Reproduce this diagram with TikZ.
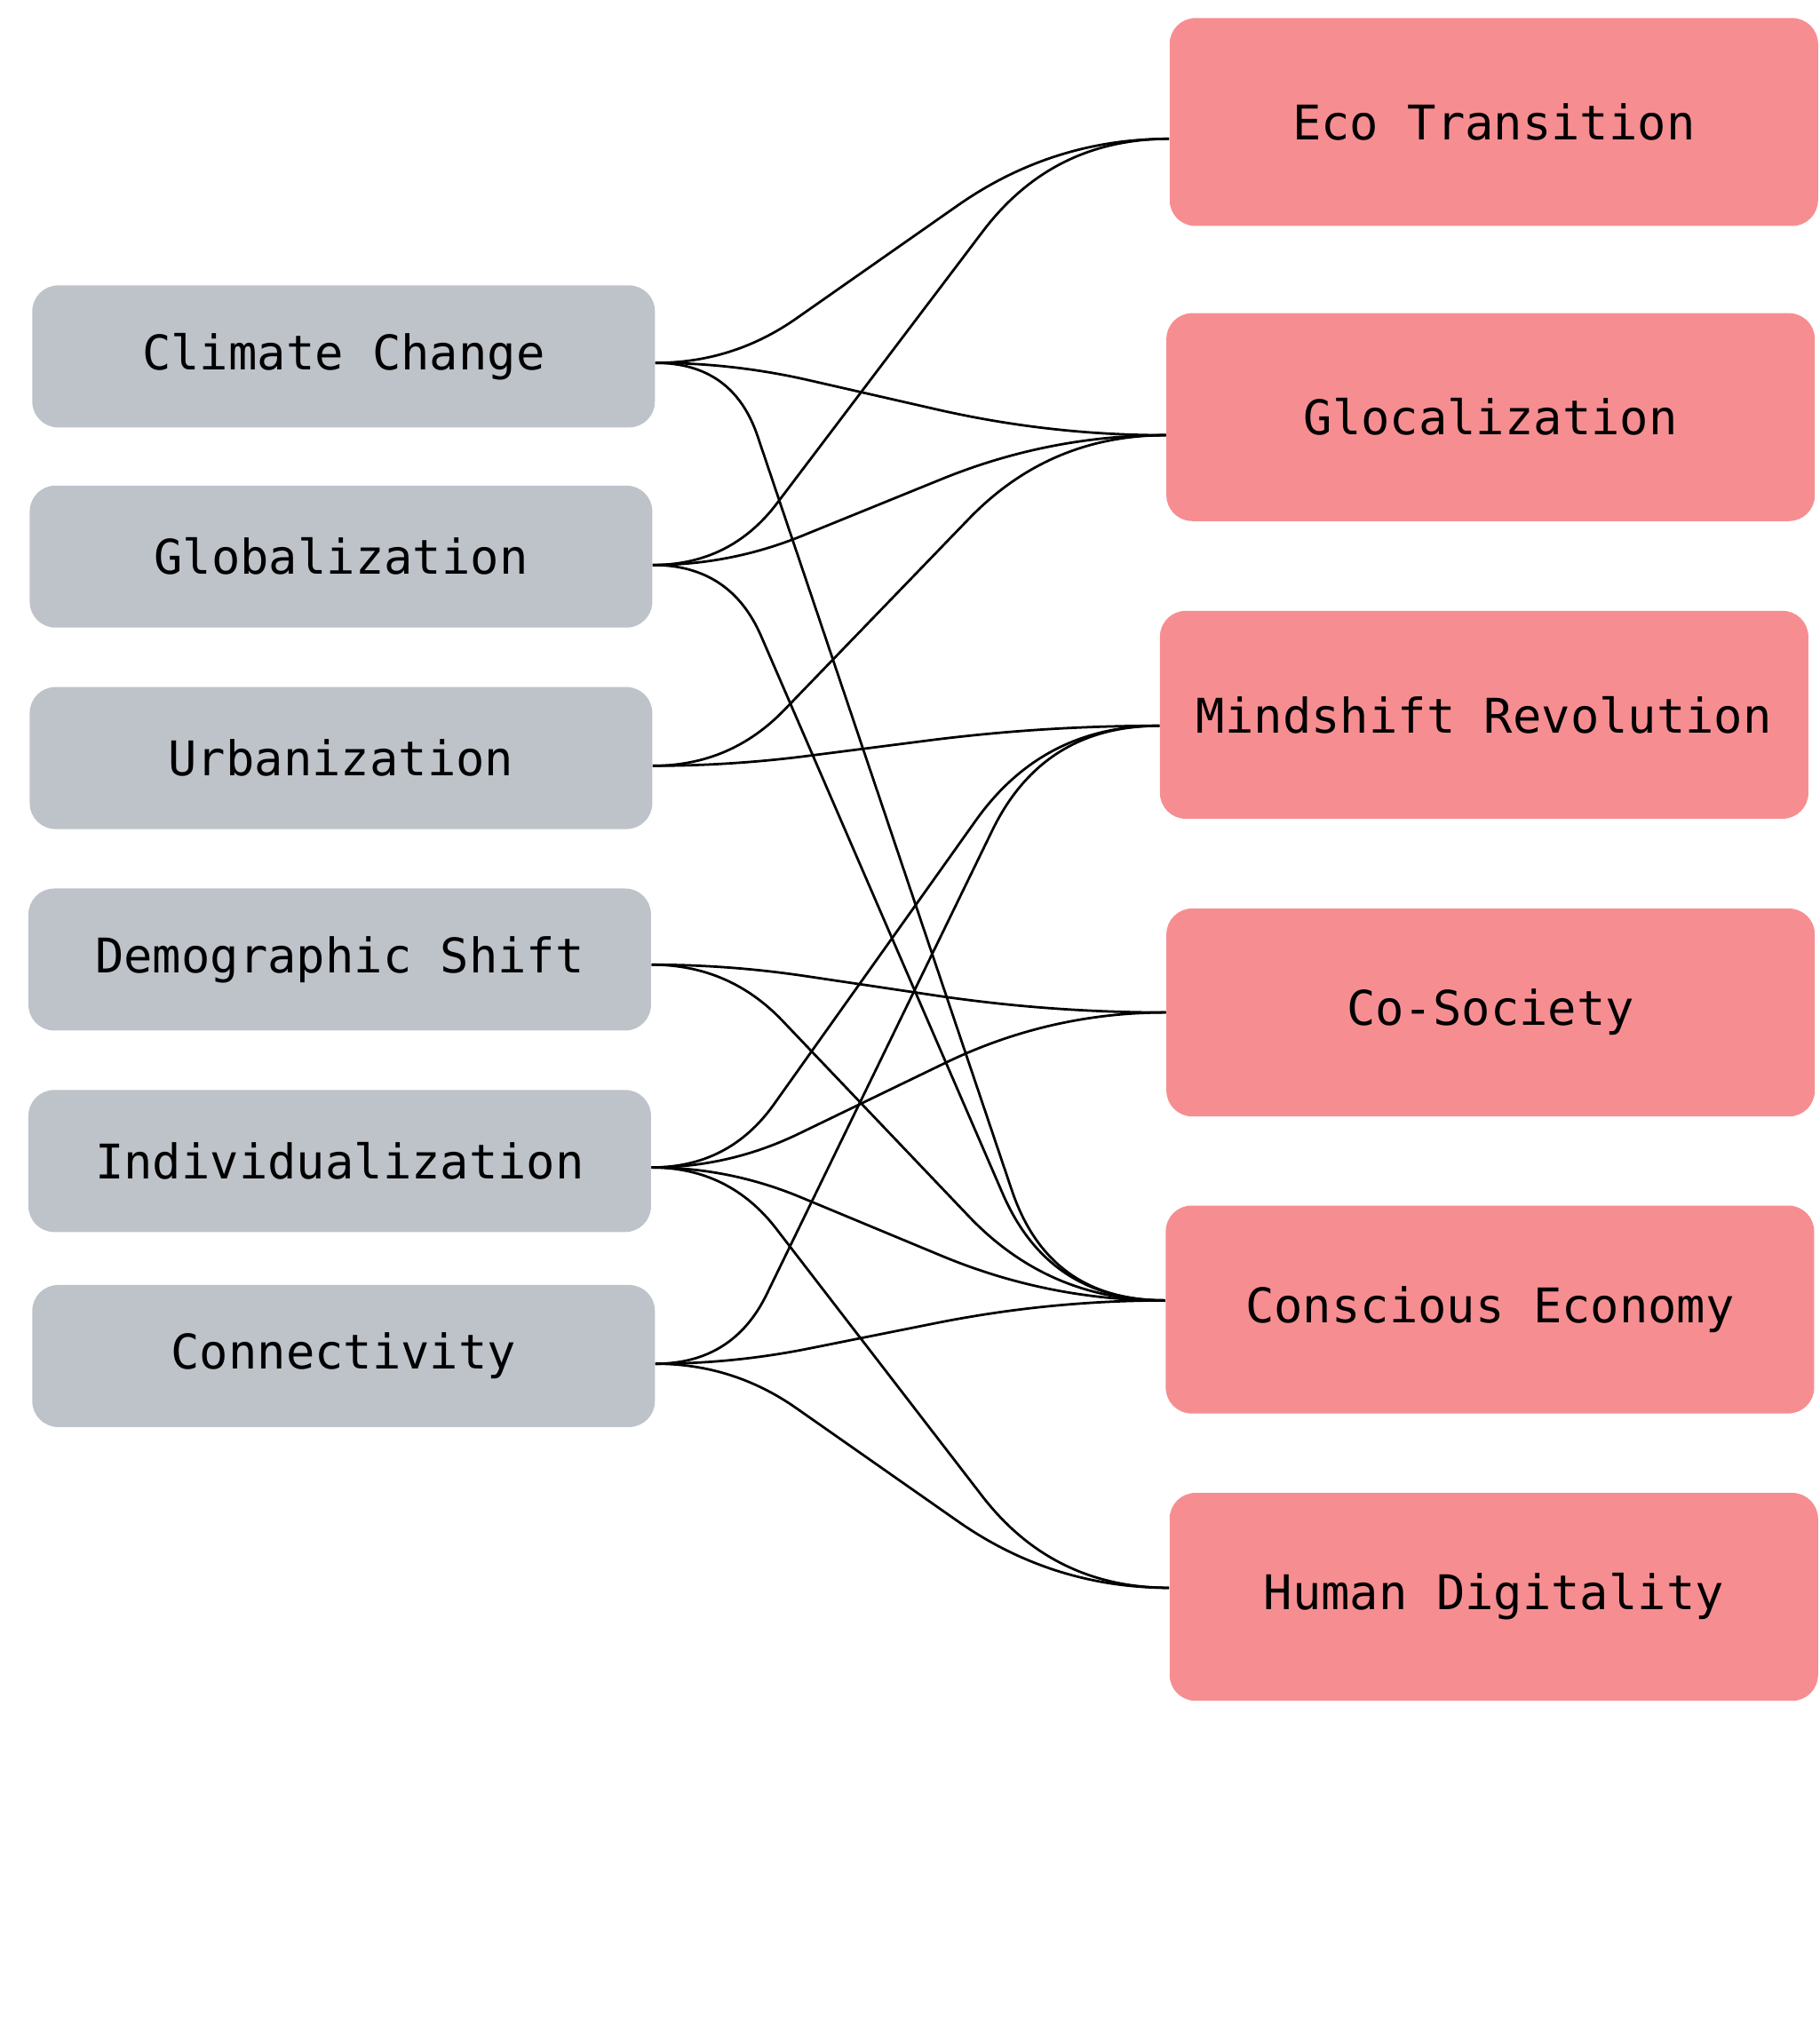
\documentclass[tikz,border=0pt]{standalone}
\usepackage{fontspec}
\setmonofont{DejaVu Sans Mono}
\usetikzlibrary{calc}
\definecolor{leftfill}{RGB}{190,195,202}
\definecolor{rightfill}{RGB}{246,142,145}
\tikzset{
  boxfont/.style={font=\ttfamily\fontsize{18.5}{20}\selectfont},
  driver/.style={fill=leftfill, rounded corners=10pt, minimum width=241pt, minimum height=55pt, inner sep=0pt, boxfont},
  outcome/.style={fill=rightfill, rounded corners=10pt, minimum width=251pt, minimum height=80.5pt, inner sep=0pt, boxfont},
  link/.style={draw=black, line width=0.95pt}
}
\newcommand{\lnk}[4]{%
  \coordinate (p0) at ($(#1.east)+(0,#2)$);
  \coordinate (p3) at ($(#3.west)+(0,#4)$);
  \coordinate (qa) at ($(p0)+(60,0)$);
  \coordinate (qb) at ($(p3)+(-90,0)$);
  \coordinate (t1) at ($(qa)!30pt!(qb)$);
  \coordinate (t2) at ($(qb)!45pt!(qa)$);
  \draw[link] (p0) .. controls ($(p0)!0.667!(qa)$) and ($(t1)!0.667!(qa)$) .. (t1) -- (t2) .. controls ($(t2)!0.667!(qb)$) and ($(p3)!0.667!(qb)$) .. (p3);
}
\begin{document}
\begin{tikzpicture}[x=0.5pt,y=-0.5pt]
\useasboundingbox (0,0) rectangle (1409,1566.5);
% drivers
\node[driver] (cc)    at (266,276)  {Climate Change};
\node[driver] (glob)  at (264,431)  {Globalization};
\node[driver] (urb)   at (264,587)  {Urbanization};
\node[driver] (demo)  at (263,743)  {Demographic Shift};
\node[driver] (indiv) at (263,899)  {Individualization};
\node[driver] (conn)  at (266,1050) {Connectivity};
% outcomes
\node[outcome] (eco)  at (1156.5,94.5)  {Eco Transition};
\node[outcome] (gloc) at (1154,323)     {Glocalization};
\node[outcome] (mind) at (1149,553.5)   {Mindshift Revolution};
\node[outcome] (cos)  at (1154,784)     {Co-Society};
\node[outcome] (ce)   at (1153.5,1014)  {Conscious Economy};
\node[outcome] (hd)   at (1156.5,1236.5){Human Digitality};
% links
\lnk{cc}{5}{eco}{13}
\lnk{cc}{5}{gloc}{14}
\lnk{cc}{5}{ce}{-7}
\lnk{glob}{6.5}{eco}{13}
\lnk{glob}{6.5}{gloc}{14}
\lnk{glob}{6.5}{ce}{-7}
\lnk{urb}{6}{gloc}{14}
\lnk{urb}{6}{mind}{8.5}
\lnk{demo}{4}{cos}{0}
\lnk{demo}{4}{ce}{-7}
\lnk{indiv}{5}{mind}{8.5}
\lnk{indiv}{5}{cos}{0}
\lnk{indiv}{5}{ce}{-7}
\lnk{indiv}{5}{hd}{-7}
\lnk{conn}{6}{mind}{8.5}
\lnk{conn}{6}{ce}{-7}
\lnk{conn}{6}{hd}{-7}
\end{tikzpicture}
\end{document}
